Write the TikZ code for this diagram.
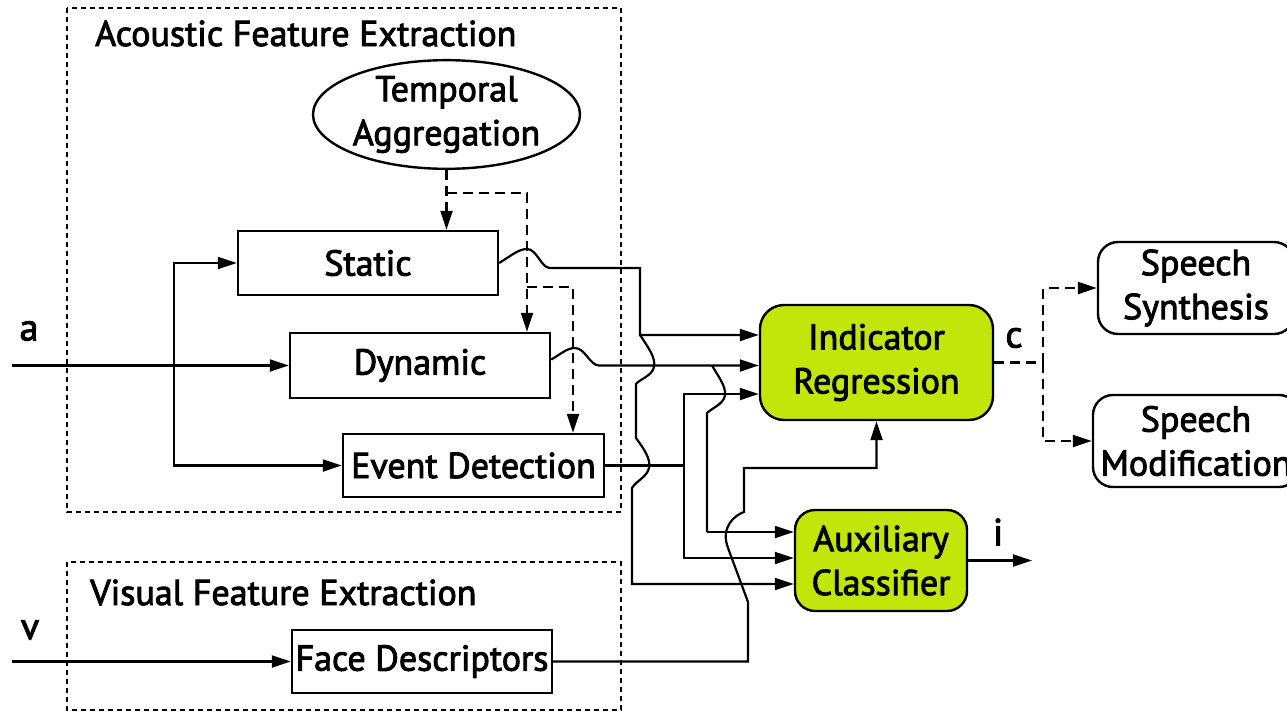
\documentclass[tikz,border=0pt]{standalone}
\usepackage{fontspec}
\setmainfont{PT Sans}[FakeBold=2.5]
\usetikzlibrary{arrows.meta,shapes.geometric}
\definecolor{lime}{RGB}{194,230,10}
\begin{document}
\begin{tikzpicture}[x=1pt,y=-1pt,
  every node/.style={font=\fontsize{36}{44}\selectfont, inner sep=0pt},
  blk/.style={draw, line width=2.4pt, align=center},
  greenbox/.style={blk, fill=lime, rounded corners=24pt},
  outbox/.style={blk, rounded corners=20pt},
  group/.style={draw, line width=2.4pt, dash pattern=on 5pt off 4pt},
  wire/.style={line width=2.2pt, -{Triangle[length=19pt,width=12pt]}},
  plain/.style={line width=2.2pt},
  dwire/.style={wire, dash pattern=on 10pt off 6pt},
  dplain/.style={plain, dash pattern=on 10pt off 6pt},
  lbl/.style={font=\fontsize{38}{38}\selectfont}]
\clip (0,0) rectangle (1287,712);

% feature extraction groups
\draw[group] (67,8) rectangle (621,512);
\draw[group] (67,562) rectangle (621,710);
\node[anchor=base west] (acTitle) at (95,46) {Acoustic Feature Extraction};
\node[anchor=base west] (viTitle) at (90,605) {Visual Feature Extraction};

% blocks
\node[blk, ellipse, minimum width=267pt, minimum height=97pt] (temporal) at (446.5,114.5) {Temporal\\Aggregation};
\node[blk, minimum width=260pt, minimum height=64pt] (static) at (368,263) {Static};
\node[blk, minimum width=260pt, minimum height=65pt] (dynamic) at (420,365.5) {Dynamic};
\node[blk, minimum width=261pt, minimum height=63pt] (event) at (473.5,465.5) {Event Detection};
\node[blk, minimum width=260pt, minimum height=63pt] (face) at (422,661.5) {Face Descriptors};
\node[greenbox, minimum width=233pt, minimum height=115pt] (ir) at (876.5,362.5) {Indicator\\Regression};
\node[greenbox, rounded corners=20pt, minimum width=172pt, minimum height=101pt] (ac) at (881,560.5) {Auxiliary\\Classifier};
\node[outbox, minimum width=196pt, minimum height=92pt] (ss) at (1196,288) {Speech\\Synthesis};
\node[outbox, minimum width=206pt, minimum height=92pt] (sm) at (1196,441) {Speech\\Modification};

% inputs
\node[lbl] (a) at (29,331) {a};
\node[lbl] (v) at (30,630) {v};
\coordinate (ain) at (12,365.5);
\coordinate (vin) at (12,661.5);
\coordinate (abr) at (174,365.5);
\draw[wire] (ain) -- (dynamic.west);
\draw[wire] (abr) |- (static.west);
\draw[wire] (abr) |- (event.west);
\draw[wire] (vin) -- (face.west);

% temporal aggregation control lines
\coordinate (tsplit) at (446.5,193);
\coordinate (tdyn) at (527,193);
\coordinate (tev) at (527,287);
\coordinate (tevx) at (573,287);
\draw[dwire] (temporal.south) -- (temporal.south |- static.north);
\draw[dwire] (tsplit) -- (tdyn) -- (tdyn |- dynamic.north);
\draw[dwire] (tev) -- (tevx) -- (tevx |- event.north);

% static features
\coordinate (s1) at (640,335);
\coordinate (s2) at (632,584);
\draw[wire] (static.east) .. controls (512,255) and (519,249) .. (527,249)
  .. controls (537,249) and (541,268) .. (550,268) -- (640,268) -- (s1) -- (s1 -| ir.west);
\draw[wire] (s1) .. controls (648,347) and (656,358) .. (654,367)
  .. controls (652,376) and (640,379) .. (636,384) -- (636,438)
  .. controls (644,449) and (651,459) .. (649,468)
  .. controls (647,477) and (636,481) .. (632,488) -- (s2) -- (s2 -| ac.west);

% dynamic features
\coordinate (d1) at (712,365.5);
\coordinate (d2) at (707,532);
\draw[wire] ([yshift=6pt]dynamic.east) .. controls (561,354) and (567,348) .. (575,348)
  .. controls (585,348) and (590,365.5) .. (599,365.5) -- (d1 -| ir.west);
\draw[plain] (d1) .. controls (718,376) and (726,386) .. (725,395)
  .. controls (724,404) and (712,408) .. (707,413) -- (d2);
\draw[wire] (d2) -- (d2 -| ac.west);

% event features
\coordinate (e1) at (684,465.5);
\coordinate (e2) at (684,394);
\coordinate (e3) at (684,558);
\draw[plain] (event.east) -- (e1);
\draw[wire] (e1) -- (e2) -- (e2 -| ir.west);
\draw[wire] (e1) -- (e3) -- (e3 -| ac.west);

% visual features
\coordinate (f1) at (748,661.5);
\coordinate (f2) at (744,468);
\draw[wire] (face.east) -- (f1) -- (748,602) -- (728,548)
  .. controls (720,527) and (735,515) .. (744,512) -- (f2) -- (f2 -| ir.south) -- (ir.south);

% outputs
\coordinate (csplit) at (1043,362.5);
\draw[dplain] (ir.east) -- (csplit);
\draw[dwire] (csplit) |- (ss.west);
\draw[dwire] (csplit) |- (sm.west);
\node[lbl] (c) at (1014,338) {c};
\coordinate (iout) at (1032,560.5);
\draw[wire] (ac.east) -- (iout);
\node[lbl] (i) at (998,532) {i};
\end{tikzpicture}
\end{document}
